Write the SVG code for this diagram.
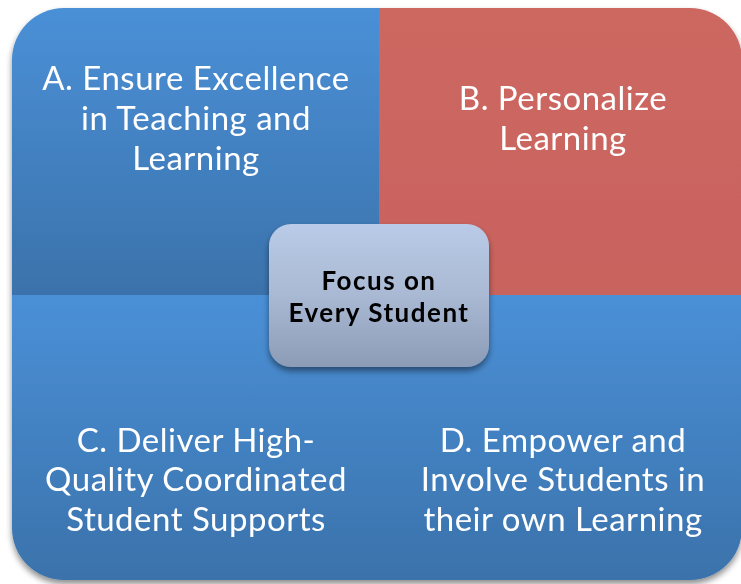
<svg xmlns="http://www.w3.org/2000/svg" width="741" height="584" viewBox="0 0 741 584">
<defs>
<linearGradient id="gBlue" x1="0" y1="0" x2="0" y2="1">
<stop offset="0" stop-color="#4a90d7"/>
<stop offset="1" stop-color="#3b72ab"/>
</linearGradient>
<linearGradient id="gRed" x1="0" y1="0" x2="0" y2="1">
<stop offset="0" stop-color="#cd6761"/>
<stop offset="1" stop-color="#c9635d"/>
</linearGradient>
<linearGradient id="gCenter" x1="0" y1="0" x2="0" y2="1">
<stop offset="0" stop-color="#b9cbe8"/>
<stop offset="0.5" stop-color="#aab9d3"/>
<stop offset="1" stop-color="#8d9cb6"/>
</linearGradient>
<filter id="sh" x="-10%" y="-10%" width="120%" height="130%">
<feGaussianBlur in="SourceAlpha" stdDeviation="3"/>
<feOffset dx="0" dy="4"/>
<feComponentTransfer><feFuncA type="linear" slope="0.45"/></feComponentTransfer>
<feMerge><feMergeNode/><feMergeNode in="SourceGraphic"/></feMerge>
</filter>
</defs>
<style>
.q{font-family:Lato,"Open Sans",sans-serif;font-size:33px;letter-spacing:0.5px;fill:#ffffff;text-anchor:middle}
.c{font-family:Lato,"Open Sans",sans-serif;font-size:26px;letter-spacing:1.5px;font-weight:bold;fill:#000000;text-anchor:middle}
</style>
<rect width="741" height="584" fill="#ffffff"/>
<g filter="url(#sh)">
<g id="nodeA">
<path d="M12,60 A52,52 0 0 1 64,8 L379,8 L379,295 L12,295 Z" fill="url(#gBlue)"/>
<text class="q" x="196" y="90">A. Ensure Excellence</text>
<text class="q" x="196" y="130">in Teaching and</text>
<text class="q" x="196" y="170">Learning</text>
</g>
<g id="nodeB">
<path d="M379,8 L690,8 A52,52 0 0 1 742,60 L742,295 L379,295 Z" fill="url(#gRed)"/>
<text class="q" x="563" y="110">B. Personalize</text>
<text class="q" x="563" y="150">Learning</text>
</g>
<g id="nodeC">
<path d="M12,295 L379,295 L379,580 L64,580 A52,52 0 0 1 12,528 Z" fill="url(#gBlue)"/>
<text class="q" x="196" y="452">C. Deliver High-</text>
<text class="q" x="196" y="491">Quality Coordinated</text>
<text class="q" x="196" y="531">Student Supports</text>
</g>
<g id="nodeD">
<path d="M379,295 L742,295 L742,528 A52,52 0 0 1 690,580 L379,580 Z" fill="url(#gBlue)"/>
<text class="q" x="563" y="452">D. Empower and</text>
<text class="q" x="563" y="491">Involve Students in</text>
<text class="q" x="563" y="531">their own Learning</text>
</g>
</g>
<g id="connectors"></g>
<g id="center" filter="url(#sh)">
<rect x="269" y="224" width="220" height="143" rx="22" fill="url(#gCenter)"/>
<text class="c" x="379" y="290">Focus on</text>
<text class="c" x="379" y="322">Every Student</text>
</g>
</svg>
